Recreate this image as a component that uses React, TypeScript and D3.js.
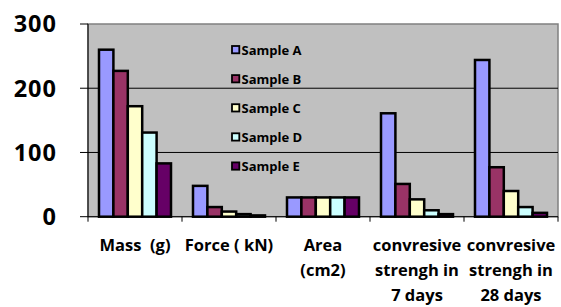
import React from "react";
import * as d3 from "d3";

const categories = [
  ["Mass  (g)"],
  ["Force ( kN)"],
  ["Area", "(cm2)"],
  ["convresive", "strengh in", "7 days"],
  ["convresive", "strengh in", "28 days"],
];
const seriesNames = ["Sample A", "Sample B", "Sample C", "Sample D", "Sample E"];
const sampleA = [260, 48, 30, 161, 244];
const sampleB = [227, 15, 30, 51, 77];
const sampleC = [172, 8, 30, 27, 40];
const sampleD = [131, 4, 30, 10, 15];
const sampleE = [83, 2, 30, 4, 6];
const seriesValues = [sampleA, sampleB, sampleC, sampleD, sampleE];
const colors = ["#9999FF", "#993366", "#FFFFCC", "#CCFFFF", "#660066"];
const yTicks = [0, 100, 200, 300];

const W = 561, H = 307;
const left = 88, right = 558, top = 24, bottom = 216.7;
const font = "'Open Sans', 'Liberation Sans', sans-serif";

export default function App() {
  const x0 = d3.scaleBand<number>().domain(d3.range(categories.length)).range([left, right]).paddingInner(0.234).paddingOuter(0.117);
  const x1 = d3.scaleBand<number>().domain(d3.range(seriesNames.length)).range([0, x0.bandwidth()]);
  const y = d3.scaleLinear().domain([0, 300]).range([bottom, top]);
  const step = (right - left) / categories.length;
  return (
    <svg width={W} height={H} style={{ position: "absolute", left: 0, top: 0 }}>
      <rect x={0} y={0} width={W} height={H} fill="#fff" />
      <rect x={left} y={top} width={right - left} height={bottom - top} fill="#C0C0C0" stroke="#808080" strokeWidth={1.5} />
      {yTicks.filter(t => t > 0 && t < 300).map(t => (
        <line key={t} x1={left} x2={right} y1={y(t)} y2={y(t)} stroke="#000" strokeWidth={1} />
      ))}
      <line x1={left} x2={left} y1={top} y2={bottom} stroke="#000" strokeWidth={1} />
      <line x1={left} x2={right} y1={bottom} y2={bottom} stroke="#000" strokeWidth={1} />
      {yTicks.map(t => (
        <g key={t}>
          <line x1={80} x2={left} y1={y(t)} y2={y(t)} stroke="#000" strokeWidth={1} />
          <text x={57} y={y(t)} dy="0.36em" textAnchor="end" fontFamily={font} fontWeight="bold" fontSize={23.5} letterSpacing={1} fill="#000">{t}</text>
        </g>
      ))}
      {d3.range(categories.length + 1).map(i => (
        <line key={i} x1={left + i * step} x2={left + i * step} y1={bottom} y2={bottom + 5} stroke="#000" strokeWidth={1} />
      ))}
      {categories.map((c, ci) => (
        <g key={ci}>
          {seriesValues.map((vals, si) => (
            <rect key={si} x={(x0(ci) as number) + (x1(si) as number)} y={y(vals[ci])} width={x1.bandwidth()} height={bottom - y(vals[ci])}
              fill={colors[si]} stroke="#000" strokeWidth={2.5} />
          ))}
          {c.map((line, li) => (
            <text key={li} x={(x0(ci) as number) + x0.bandwidth() / 2} y={245 + li * 25} dy="0.36em" textAnchor="middle"
              fontFamily={font} fontWeight="bold" fontSize={16.5} fill="#000" style={{ whiteSpace: "pre" }}>{line}</text>
          ))}
        </g>
      ))}
      {seriesNames.map((n, i) => (
        <g key={n}>
          <rect x={232} y={46 + i * 29.1} width={7.3} height={7.3} fill={colors[i]} stroke="#000" strokeWidth={1.8} />
          <text x={241.5} y={50 + i * 29.1} dy="0.36em" fontFamily={font} fontWeight="bold" fontSize={13} fill="#000">{n}</text>
        </g>
      ))}
    </svg>
  );
}
